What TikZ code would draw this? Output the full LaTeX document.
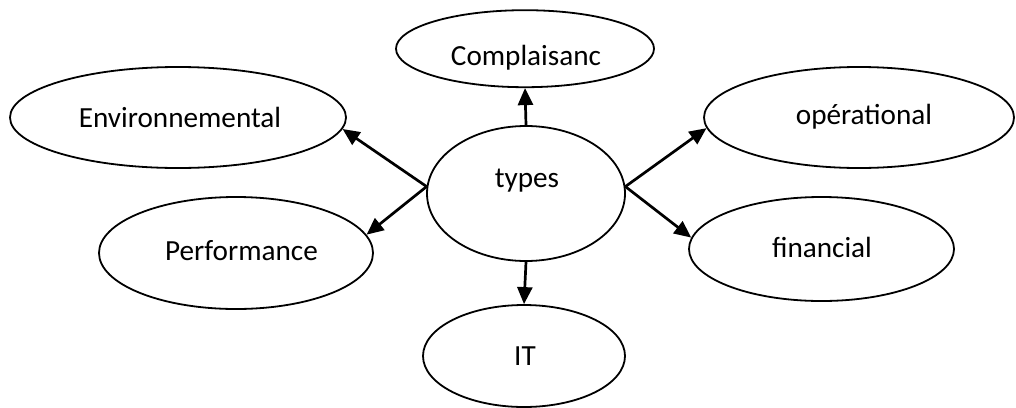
\documentclass[tikz,border=0pt]{standalone}
\usepackage{fontspec}
\setmainfont{Carlito}
\usetikzlibrary{shapes.geometric,arrows.meta}
\tikzset{
  oval/.style={ellipse, draw, line width=1.8pt, inner sep=0pt},
  txt/.style={font=\fontsize{29.2}{35}\selectfont, inner sep=0pt, anchor=base},
  arr/.style={line width=2.7pt, -{Triangle[length=17pt,width=15pt]}}
}
\begin{document}
\begin{tikzpicture}[x=1pt,y=-1pt]
\useasboundingbox (0,0) rectangle (1016,407);
\node[oval, minimum width=258, minimum height=77,
  label={[txt, xshift=1pt, yshift=-8.6pt]center:Complaisanc}] (compl) at (525,48.7) {};
\node[oval, minimum width=336, minimum height=101,
  label={[txt, xshift=2pt, yshift=0.5pt]center:Environnemental}] (env) at (178,117.5) {};
\node[oval, minimum width=310, minimum height=101,
  label={[txt, xshift=5pt, yshift=0.5pt]center:opérational}] (op) at (859,117.5) {};
\node[oval, minimum width=198, minimum height=135,
  label={[txt, xshift=1pt, yshift=12.5pt]center:types}] (types) at (526,193.5) {};
\node[oval, minimum width=274, minimum height=112,
  label={[txt, xshift=5.5pt, yshift=2pt]center:Performance}] (perf) at (236,253) {};
\node[oval, minimum width=265, minimum height=104,
  label={[txt, xshift=0.5pt, yshift=2pt]center:financial}] (fin) at (821.5,249) {};
\node[oval, minimum width=202, minimum height=102,
  label={[txt, xshift=1pt, yshift=0pt]center:IT}] (it) at (524,356) {};
\draw[arr] (types.north) -- (compl.south);
\draw[arr] (types.south) -- (it.north);
\draw[arr] (types.176) -- (env.-4);
\draw[arr] (types.176) -- (perf.8);
\draw[arr] (types.4) -- (op.184);
\draw[arr] (types.4) -- (fin.175);
\end{tikzpicture}
\end{document}
